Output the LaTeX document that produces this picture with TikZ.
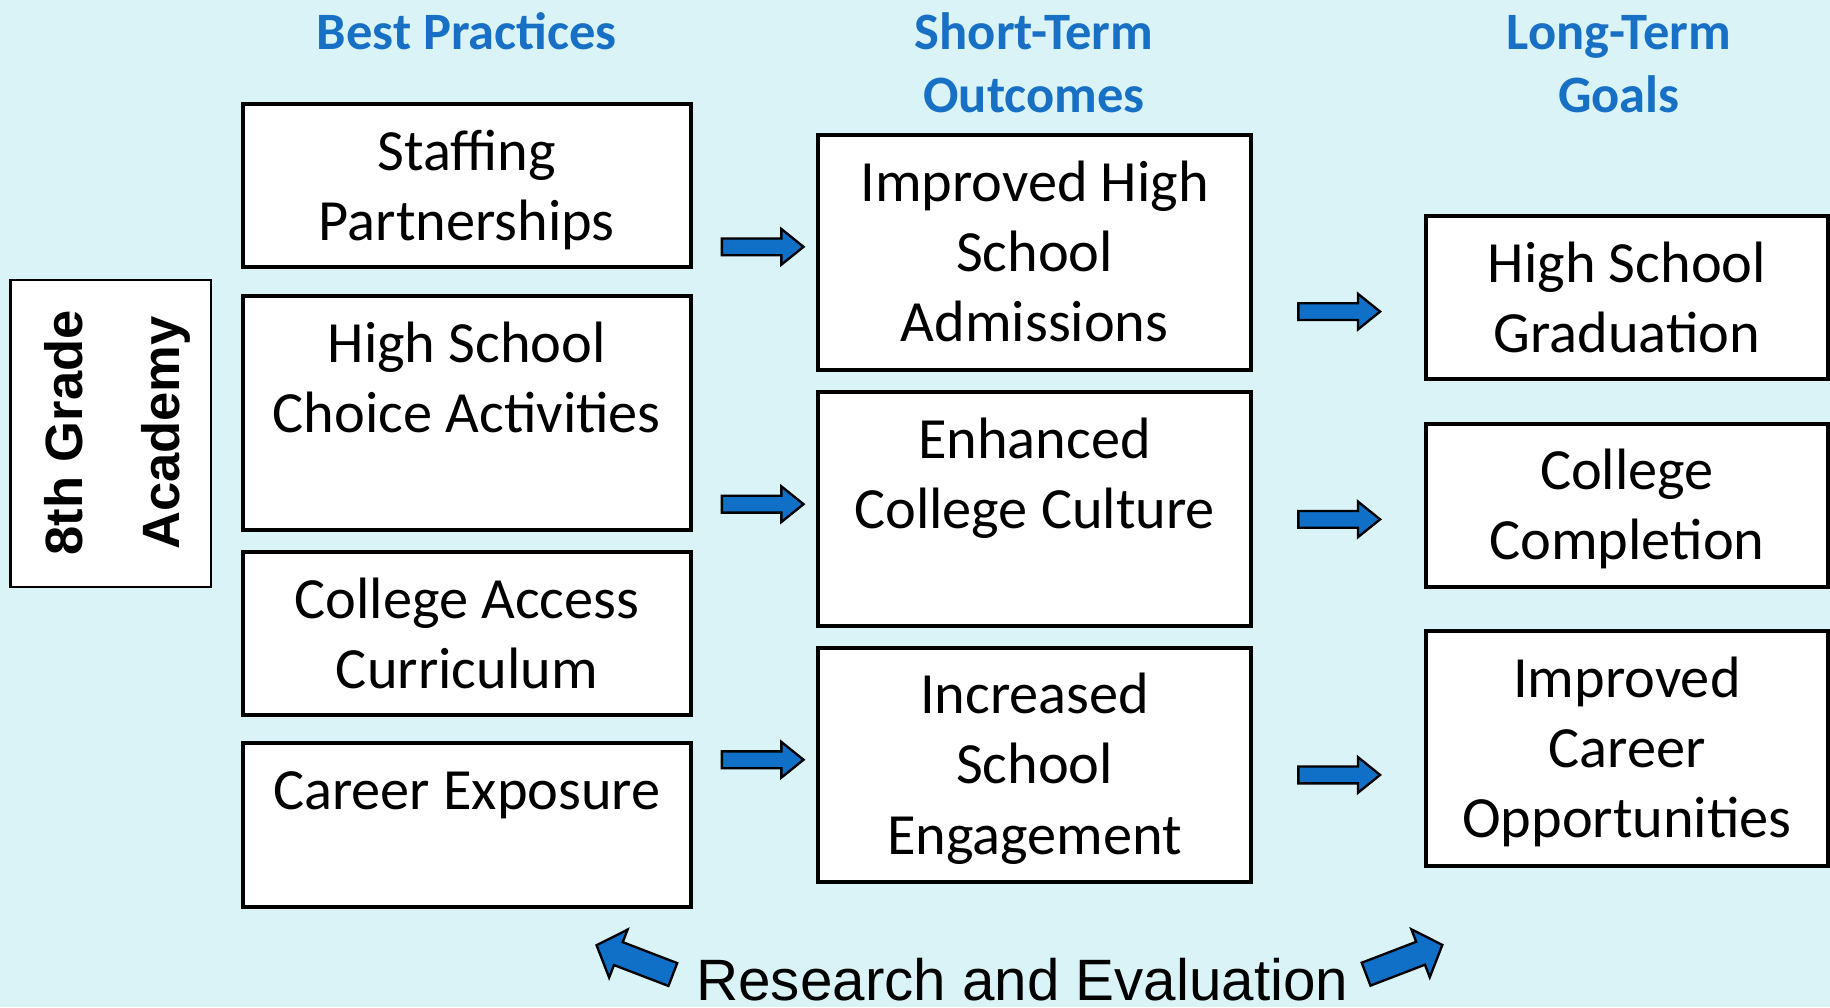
\documentclass[tikz,border=0pt]{standalone}
\usepackage{fontspec}
\setmainfont{Carlito}
\newfontfamily\arialfont{Liberation Sans}
\usetikzlibrary{calc}
\definecolor{bgcyan}{RGB}{218,243,247}
\definecolor{headblue}{RGB}{23,112,196}
\definecolor{arrowblue}{RGB}{16,111,198}
\tikzset{
  box/.style={draw=black, line width=3.5pt, fill=white, rectangle, inner sep=0pt},
  boxtext/.style={font=\fontsize{50}{60}\selectfont, align=flush center, anchor=base, inner sep=0pt},
  header/.style={font=\bfseries\fontsize{45}{54}\selectfont, text=headblue, text width=420pt, align=flush center, anchor=base, inner sep=0pt},
  arrowbody/.style={fill=arrowblue, draw=black, line width=2pt, line join=miter},
  pics/hbarrow/.style={code={\draw[arrowbody] (0,-7.2) -- (51,-7.2) -- (51,-15.3) -- (70,0) -- (51,15.3) -- (51,7.2) -- (0,7.2) -- cycle;}},
  pics/dbarrow/.style={code={\draw[arrowbody] (0,-10.5) -- (50,-10.5) -- (50,-22) -- (70,0) -- (50,22) -- (50,10.5) -- (0,10.5) -- cycle;}},
}
\begin{document}
\begin{tikzpicture}[x=1pt,y=1pt]
\fill[bgcyan] (0,0) rectangle (1568,863);
\useasboundingbox (0,0) rectangle (1568,863);

% headers
\node[header] (h1) at (400,820.5) {Best Practices};
\node[header] (h2) at (886,820.5) {Short-Term\\Outcomes};
\node[header] (h3) at (1387,820.5) {Long-Term\\Goals};

% left box
\node[box, line width=2pt, minimum width=172pt, minimum height=263pt] (acadbox) at (95,491.5) {};
\node[rotate=90, font=\arialfont\bfseries\fontsize{45}{83}\selectfont, align=center, inner sep=0pt] (acad) at (100.5,492) {8th Grade\\Academy};

% best practices
\node[box, minimum width=384pt, minimum height=140pt] (s1) at (400,704) {};
\node[box, minimum width=384pt, minimum height=200pt] (s2) at (400,509) {};
\node[box, minimum width=384pt, minimum height=140pt] (s3) at (400,320) {};
\node[box, minimum width=384pt, minimum height=140pt] (s4) at (400,156) {};
\node[boxtext, text width=364pt] (ts1) at ($(s1.north)+(0,-58.5)$) {Staffing\\Partnerships};
\node[boxtext, text width=364pt] (ts2) at ($(s2.north)+(0,-58.5)$) {High School\\Choice Activities};
\node[boxtext, text width=364pt] (ts3) at ($(s3.north)+(0,-58.5)$) {College Access\\Curriculum};
\node[boxtext, text width=364pt] (ts4) at ($(s4.north)+(0,-58.5)$) {Career Exposure};

% short-term outcomes
\node[box, minimum width=371pt, minimum height=201pt] (o1) at (886.5,646.5) {};
\node[box, minimum width=371pt, minimum height=200pt] (o2) at (886.5,427) {};
\node[box, minimum width=371pt, minimum height=201pt] (o3) at (886.5,207.5) {};
\node[boxtext, text width=351pt] (to1) at ($(o1.north)+(0,-58.5)$) {Improved High\\School\\Admissions};
\node[boxtext, text width=351pt] (to2) at ($(o2.north)+(0,-58.5)$) {Enhanced\\College Culture};
\node[boxtext, text width=351pt] (to3) at ($(o3.north)+(0,-58.5)$) {Increased\\School\\Engagement};

% long-term goals
\node[box, minimum width=344pt, minimum height=140pt] (g1) at (1394,608) {};
\node[box, minimum width=344pt, minimum height=140pt] (g2) at (1394,430) {};
\node[box, minimum width=344pt, minimum height=201pt] (g3) at (1394,221.5) {};
\node[boxtext, text width=324pt] (tg1) at ($(g1.north)+(0,-58.5)$) {High School\\Graduation};
\node[boxtext, text width=324pt] (tg2) at ($(g2.north)+(0,-58.5)$) {College\\Completion};
\node[boxtext, text width=324pt] (tg3) at ($(g3.north)+(0,-58.5)$) {Improved\\Career\\Opportunities};

% block arrows
\pic at (618.5,651.5) {hbarrow};
\pic at (618.5,431) {hbarrow};
\pic at (618.5,212) {hbarrow};
\pic at (1112.5,596) {hbarrow};
\pic at (1112.5,418) {hbarrow};
\pic at (1112.5,199) {hbarrow};

% research and evaluation
\node[font=\arialfont\fontsize{50}{60}\selectfont, anchor=base, inner sep=0pt] (re) at (876,6) {Research and Evaluation};
\pic[rotate=159] at (576.5,28) {dbarrow};
\pic[rotate=21] at (1170.5,28.3) {dbarrow};
\end{tikzpicture}
\end{document}
